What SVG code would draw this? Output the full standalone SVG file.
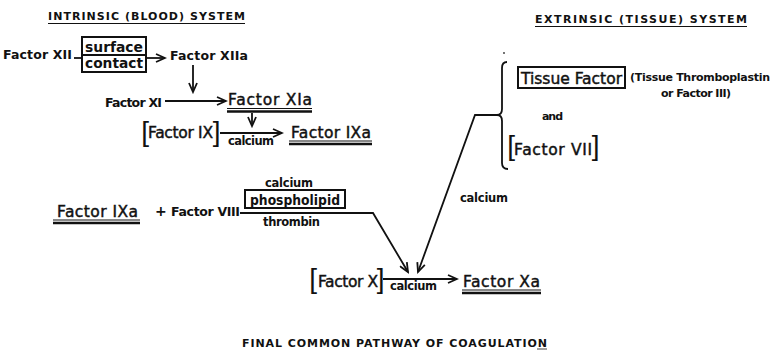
<svg xmlns="http://www.w3.org/2000/svg" width="776" height="350" viewBox="0 0 776 350">
<defs>
<style>
text{font-family:"DejaVu Sans","Liberation Sans",Arial,sans-serif;fill:#111;}
.sm{font-size:12.5px;font-weight:bold;}
.cal{font-size:11.5px;font-weight:bold;}
.hd{font-size:11px;font-weight:bold;}
.big{font-size:15.5px;stroke:#111;stroke-width:0.45;}
.br{font-size:28px;font-weight:normal;font-family:"Liberation Sans",Arial,sans-serif;stroke:none;}
.ln{stroke:#111;stroke-width:1.8;fill:none;}
.box{stroke:#111;stroke-width:2;fill:none;}
.ul{stroke:#111;fill:none;}
</style>
<marker id="ah" markerUnits="userSpaceOnUse" markerWidth="12" markerHeight="10" refX="9" refY="4" orient="auto" viewBox="-1 -1 12 10">
<path d="M0,0 L9,4 L0,8" stroke="#111" stroke-width="1.8" fill="none"/>
</marker>
</defs>
<rect width="776" height="350" fill="#fff"/>

<g id="title-intrinsic">
<text class="hd" x="48" y="20" textLength="197" lengthAdjust="spacing">INTRINSIC (BLOOD) SYSTEM</text>
<line class="ul" x1="48" y1="23.5" x2="245" y2="23.5" stroke-width="1.2"/>
</g>
<g id="title-extrinsic">
<text class="hd" x="535" y="23" textLength="212" lengthAdjust="spacing">EXTRINSIC (TISSUE) SYSTEM</text>
<line class="ul" x1="535" y1="26.5" x2="747" y2="26.5" stroke-width="1.2"/>
</g>

<g id="factor-xii">
<text class="sm" x="3" y="59" textLength="69" lengthAdjust="spacing">Factor XII</text>
</g>
<g id="surface-contact">
<rect class="box" x="82" y="37" width="64" height="35"/>
<line class="box" x1="82" y1="55" x2="146" y2="55"/>
<text x="85" y="52" font-size="13.5" font-weight="bold" textLength="58" lengthAdjust="spacingAndGlyphs">surface</text>
<text x="85" y="68" font-size="13.5" font-weight="bold" textLength="58" lengthAdjust="spacingAndGlyphs">contact</text>
</g>
<g id="factor-xiia">
<text class="sm" x="170" y="60" textLength="78" lengthAdjust="spacing">Factor XIIa</text>
</g>
<g id="factor-xi">
<text class="sm" x="105" y="107" textLength="57" lengthAdjust="spacing">Factor XI</text>
</g>
<g id="factor-xia">
<text class="big" x="228" y="105" textLength="84" lengthAdjust="spacing">Factor XIa</text>
<line class="ul" x1="227" y1="108.5" x2="312" y2="108.5" stroke-width="1"/>
<line class="ul" x1="227" y1="111.5" x2="312" y2="111.5" stroke-width="2.5"/>
</g>
<g id="factor-ix">
<text class="big"><tspan class="br" x="141.2" y="141">[</tspan><tspan x="148" y="138" textLength="65" lengthAdjust="spacing">Factor IX</tspan><tspan class="br" x="212.7" y="141">]</tspan></text>
</g>
<g id="calcium-1">
<text class="cal" x="228" y="145" textLength="46" lengthAdjust="spacing">calcium</text>
</g>
<g id="factor-ixa-1">
<text class="big" x="291" y="138" textLength="80" lengthAdjust="spacing">Factor IXa</text>
<line class="ul" x1="289" y1="141" x2="372" y2="141" stroke-width="1"/>
<line class="ul" x1="289" y1="144" x2="372" y2="144" stroke-width="2.5"/>
</g>

<g id="factor-ixa-2">
<text class="big" x="57" y="217" textLength="81" lengthAdjust="spacing">Factor IXa</text>
<line class="ul" x1="53" y1="220" x2="140" y2="220" stroke-width="1"/>
<line class="ul" x1="53" y1="223" x2="140" y2="223" stroke-width="2.5"/>
</g>
<g id="plus">
<text x="155" y="216" font-size="14" font-weight="bold">+</text>
</g>
<g id="factor-viii">
<text class="sm" x="171" y="216" textLength="69" lengthAdjust="spacing">Factor VIII</text>
</g>
<g id="calcium-2">
<text class="cal" x="265" y="187" textLength="48" lengthAdjust="spacing">calcium</text>
</g>
<g id="phospholipid">
<rect class="box" x="245" y="190" width="100" height="18"/>
<text x="250" y="205" font-size="14" font-weight="bold" textLength="90" lengthAdjust="spacingAndGlyphs">phospholipid</text>
</g>
<g id="thrombin">
<text class="cal" x="263" y="226" textLength="57" lengthAdjust="spacing">thrombin</text>
</g>

<g id="tissue-factor">
<rect class="box" x="518" y="67" width="107" height="21"/>
<text class="big" x="521" y="84" textLength="101" lengthAdjust="spacing">Tissue Factor</text>
</g>
<g id="tissue-note">
<text x="630" y="81" font-size="11" font-weight="bold" textLength="140" lengthAdjust="spacing">(Tissue Thromboplastin</text>
<text x="661" y="97" font-size="11" font-weight="bold" textLength="70" lengthAdjust="spacing">or Factor III)</text>
</g>
<g id="and">
<text class="hd" x="542" y="120" textLength="21" lengthAdjust="spacing">and</text>
</g>
<g id="factor-vii">
<text class="big"><tspan class="br" x="507.2" y="155">[</tspan><tspan x="514" y="155" textLength="78" lengthAdjust="spacing">Factor VII</tspan><tspan class="br" x="591.7" y="155">]</tspan></text>
</g>
<g id="brace">
<circle cx="504" cy="53" r="0.9" fill="#333"/>
<path class="ln" d="M507,62 Q502,62 502,68 L502,109 Q502,115 497,115 Q502,115 502,121 L502,163 Q502,169 508,169"/>
</g>
<g id="calcium-3">
<text class="cal" x="460" y="202" textLength="48" lengthAdjust="spacing">calcium</text>
</g>

<g id="factor-x">
<text class="big"><tspan class="br" x="309.2" y="288">[</tspan><tspan x="318" y="287" textLength="60" lengthAdjust="spacing">Factor X</tspan><tspan class="br" x="376.7" y="288">]</tspan></text>
</g>
<g id="calcium-4">
<text class="cal" x="390" y="290" textLength="47" lengthAdjust="spacing">calcium</text>
</g>
<g id="factor-xa">
<text class="big" x="463" y="287" textLength="77" lengthAdjust="spacing">Factor Xa</text>
<line class="ul" x1="462" y1="290" x2="541" y2="290" stroke-width="1"/>
<line class="ul" x1="462" y1="293" x2="541" y2="293" stroke-width="2.5"/>
</g>

<g id="final-caption">
<text class="hd" x="242" y="347" textLength="305" lengthAdjust="spacing">FINAL COMMON PATHWAY OF COAGULATION</text>
<line class="ul" x1="537" y1="349" x2="547" y2="349" stroke-width="0.8"/>
</g>

<g id="connectors">
<line class="ln" x1="74" y1="58" x2="82" y2="58"/>
<line class="ln" x1="146" y1="58" x2="165" y2="58" marker-end="url(#ah)"/>
<line class="ln" x1="193" y1="65" x2="193" y2="92" marker-end="url(#ah)"/>
<line class="ln" x1="165" y1="101" x2="226" y2="101" marker-end="url(#ah)"/>
<line class="ln" x1="252" y1="113" x2="252" y2="126" marker-end="url(#ah)"/>
<line class="ln" x1="220" y1="133" x2="282" y2="133" marker-end="url(#ah)"/>
<polyline class="ln" points="240,213 373,213 408,272" marker-end="url(#ah)"/>
<polyline class="ln" points="497,115 475,115 418,272" marker-end="url(#ah)"/>
<line class="ln" x1="383" y1="279" x2="457" y2="279" marker-end="url(#ah)"/>
</g>
</svg>
